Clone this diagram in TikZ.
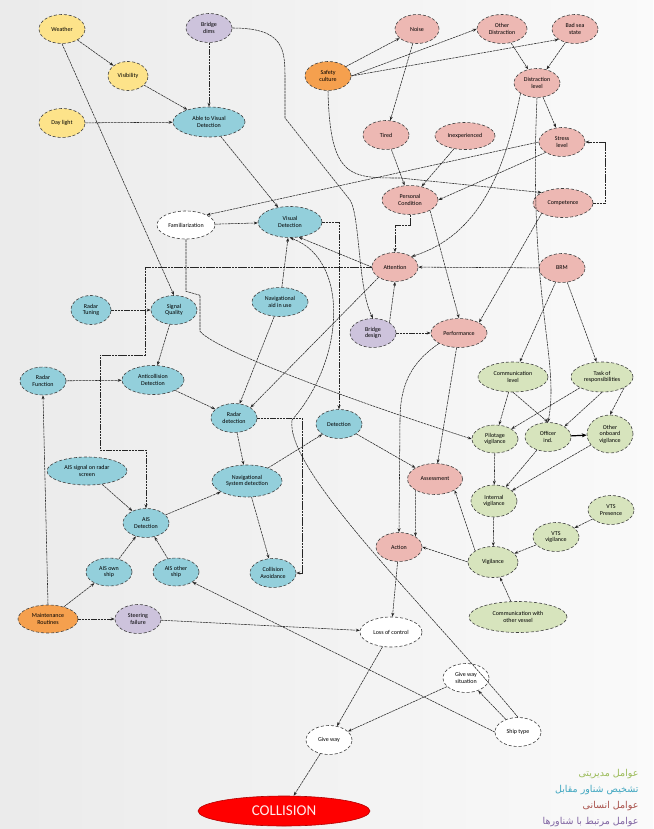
\documentclass[tikz,border=0pt]{standalone}
\usepackage{fontspec}
\setmainfont{Carlito}
\newfontfamily\farsifont[Script=Arabic]{DejaVu Sans}
\TeXXeTstate=1
\usepackage{tikz}
\usetikzlibrary{shapes.geometric,arrows.meta,positioning,calc}
\usepackage{xcolor}

\definecolor{yellowf}{HTML}{FDE38A}
\definecolor{bluef}{HTML}{93CFDB}
\definecolor{pinkf}{HTML}{EDB8B3}
\definecolor{purplef}{HTML}{CDC3DC}
\definecolor{orangef}{HTML}{F5A04E}
\definecolor{greenf}{HTML}{D7E4BD}
\definecolor{leggreen}{HTML}{9BBB59}
\definecolor{legblue}{HTML}{3FA6C0}
\definecolor{legbrown}{HTML}{A8504A}
\definecolor{legpurple}{HTML}{8064A2}

\begin{document}
\begin{tikzpicture}[x=1pt,y=1pt,
    factor/.style={ellipse, draw=black!75, densely dashed, line width=0.6pt, inner sep=0pt, minimum width=46pt, minimum height=29pt, align=center, font=\fontsize{6}{6.5}\selectfont},
    envf/.style={factor, fill=yellowf},
    detf/.style={factor, fill=bluef},
    humf/.style={factor, fill=pinkf},
    shipf/.style={factor, fill=purplef},
    orgf/.style={factor, fill=orangef},
    mgtf/.style={factor, fill=greenf},
    plainf/.style={factor, fill=white},
    myarrow/.style={-{Stealth[length=4pt,width=3pt]}, black!85, line width=0.55pt, dash pattern=on 2.5pt off 0.7pt},
    legend/.style={anchor=east, font=\farsifont\fontsize{9.5}{10}\selectfont}
]
    % Background
    \useasboundingbox (0,0) rectangle (653,-829);
    \shade[left color=gray!16, right color=gray!4] (0,0) rectangle (653,-829);

    % Environment
    \node[envf] (weather) at (62,-29) {Weather};
    \node[envf, minimum width=40pt] (visib) at (128,-76) {Visibility};
    \node[envf] (daylight) at (62,-123) {Day light};

    % Ship related
    \node[shipf] (bdims) at (209,-28) {Bridge\\dims};
    \node[shipf] (bdesign) at (373,-333) {Bridge\\design};
    \node[shipf] (steer) at (138,-619) {Steering\\failure};

    % Organisation
    \node[orgf] (safety) at (328,-76) {Safety\\culture};
    \node[orgf, minimum width=60pt, minimum height=28pt] (maint) at (48,-619) {Maintenance\\Routines};

    % Human factors
    \node[humf, minimum width=44pt] (noise) at (417,-29) {Noise};
    \node[humf, minimum width=50pt] (othdist) at (502,-29) {Other\\Distraction};
    \node[humf] (seast) at (575,-29) {Bad sea\\state};
    \node[humf] (distlev) at (537,-83) {Distraction\\level};
    \node[humf] (tired) at (386,-135) {Tired};
    \node[humf, minimum width=60pt, minimum height=27pt] (inexp) at (465,-136) {Inexperienced};
    \node[humf] (stress) at (562,-142) {Stress\\level};
    \node[humf, minimum width=56pt] (perscond) at (410,-200) {Personal\\Condition};
    \node[humf, minimum width=60pt] (compet) at (563,-203) {Competence};
    \node[humf] (attention) at (395,-267) {Attention};
    \node[humf] (brm) at (562,-268) {BRM};
    \node[humf, minimum width=56pt] (perf) at (459,-333) {Performance};
    \node[humf, minimum width=55pt, minimum height=31pt] (assess) at (435,-479) {Assessment};
    \node[humf] (action) at (399,-547) {Action};

    % Detection of the other vessel
    \node[detf, minimum width=72pt, minimum height=30pt] (ablevd) at (209,-122) {Able to Visual\\Detection};
    \node[detf, minimum width=64pt, minimum height=31pt] (visdet) at (290,-222) {Visual\\Detection};
    \node[detf, minimum width=56pt] (navaid) at (280,-302) {Navigational\\aid in use};
    \node[detf, minimum width=40pt] (radtun) at (91,-310) {Radar\\Tuning};
    \node[detf] (sigq) at (174,-310) {Signal\\Quality};
    \node[detf, minimum height=28pt] (radfunc) at (43,-381) {Radar\\Function};
    \node[detf, minimum width=62pt] (anticol) at (153,-380) {Anticollision\\Detection};
    \node[detf] (radardet) at (234,-418) {Radar\\detection};
    \node[detf] (detection) at (339,-424) {Detection};
    \node[detf, minimum width=70pt, minimum height=32pt] (nsd) at (247,-481) {Navigational\\System detection};
    \node[detf] (collav) at (273,-573) {Collision\\Avoidance};
    \node[detf, minimum width=80pt, minimum height=28pt] (aissig) at (87,-471) {AIS signal on radar\\screen};
    \node[detf] (aisdet) at (146,-523) {AIS\\Detection};
    \node[detf, minimum height=28pt] (aisown) at (109,-572) {AIS own\\ship};
    \node[detf, minimum height=28pt] (aisoth) at (176,-572) {AIS other\\ship};

    % Management
    \node[mgtf, minimum width=70pt, minimum height=30pt] (commlev) at (513,-377) {Communication\\level};
    \node[mgtf, minimum width=62pt, minimum height=30pt] (task) at (602,-377) {Task of\\responsibilities};
    \node[mgtf, minimum height=28pt] (pilotvig) at (495,-439) {Pilotage\\vigilance};
    \node[mgtf] (officer) at (548,-437) {Officer\\ind.};
    \node[mgtf, minimum height=38pt] (othonb) at (610,-434) {Other\\onboard\\vigilance};
    \node[mgtf, minimum height=32pt] (intvig) at (494,-501) {Internal\\vigilance};
    \node[mgtf] (vtspres) at (611,-510) {VTS\\Presence};
    \node[mgtf] (vtsvig) at (556,-537) {VTS\\vigilance};
    \node[mgtf, minimum width=50pt, minimum height=31pt] (vigil) at (493,-562) {Vigilance};
    \node[mgtf, minimum width=98pt, minimum height=31pt] (commves) at (518,-617) {Communication with\\other vessel};

    % Situation
    \node[plainf, minimum width=58pt, minimum height=28pt] (familiar) at (186,-225) {Familiarization};
    \node[plainf, minimum width=62pt, minimum height=30pt] (lossctl) at (391,-632) {Loss of control};
    \node[plainf] (gwsit) at (466,-678) {Give way\\situation};
    \node[plainf] (shiptype) at (518,-732) {Ship type};
    \node[plainf] (giveway) at (329,-740) {Give way};
    \node[ellipse, fill=red, draw=red!70!black, line width=0.6pt, minimum width=172pt, minimum height=30pt, inner sep=0pt, text=red!8, font=\fontsize{15}{15}\selectfont] (collision) at (284,-811) {COLLISION};

    % Arrows - environment and bridge
    \draw[myarrow] (weather) -- (visib);
    \draw[myarrow] (weather.south) -- (sigq.north);
    \draw[myarrow] (visib) -- (ablevd);
    \draw[myarrow] (daylight) -- (ablevd);
    \draw[myarrow] (bdims) -- (ablevd);
    \draw[myarrow] (bdims.east) .. controls (285,-28) and (285,-50) .. (285,-80) -- (285,-118) -- (350,-200) .. controls (360,-215) and (358,-290) .. (bdesign.north);
    \draw[myarrow] (ablevd) -- (visdet);

    % Arrows - human factors
    \draw[myarrow] (safety) -- (noise);
    \draw[myarrow] (safety.east) -- (othdist.west);
    \draw[myarrow] (safety.east) -- (seast.south west);
    \draw[myarrow] (safety.south) .. controls (330,-178) and (350,-178) .. (400,-178) -- (compet.north west);
    \draw[myarrow] (noise) -- (tired);
    \draw[myarrow] (othdist) -- (distlev);
    \draw[myarrow] (seast) -- (distlev);
    \draw[myarrow] (distlev) -- (stress);
    \draw[myarrow] (distlev.south west) .. controls (505,-170) and (480,-235) .. (attention.north east);
    \draw[myarrow] (distlev.south) .. controls (528,-300) and (560,-360) .. (officer.north);
    \draw[myarrow] (tired) -- (perscond);
    \draw[myarrow] (inexp) -- (perscond);
    \draw[myarrow] (stress.south west) -- (perscond.east);
    \draw[myarrow] (stress.west) -- (familiar.north east);
    \draw[myarrow] (compet.east) -- ++(12,0) |- (stress.east);
    \draw[myarrow] (perscond.south east) -- (perf.north);
    \draw[myarrow] (perscond.south) -- ++(0,-10) -| (attention.north);
    \draw[myarrow] (compet.south west) -- (perf.north east);
    \draw[myarrow] (brm) -- (attention);
    \draw[myarrow] (brm) -- (commlev);
    \draw[myarrow] (brm) -- (task);
    \draw[myarrow] (bdesign.north east) -- (attention.south);
    \draw[myarrow] (bdesign) -- (perf);
    \draw[myarrow] (perf.south west) .. controls (415,-360) and (400,-380) .. (400,-420) -- (action.north);
    \draw[myarrow] (perf) -- (assess);
    \draw[myarrow] (assess.south west) -- (action.north east);
    \draw[myarrow] (action) -- (lossctl);

    % Arrows - detection
    \draw[myarrow] (familiar) -- (visdet);
    \draw[myarrow] (familiar.south) -- ++(0,-52) -- ++(14,-4) -- ++(0,-36) .. controls (215,-350) and (350,-400) .. (pilotvig.west);
    \draw[myarrow] (visdet.east) -| (detection.north);
    \draw[myarrow] (attention.west) -- (visdet.-60);
    \draw[myarrow] (attention.west) -- (145,-267) -- (145,-355) -- (100,-355) -- (100,-450) -- (146,-450) -- (aisdet.north);
    \draw[myarrow] (attention.south west) -- (radardet.north east);
    \draw[myarrow] (navaid) -- (visdet);
    \draw[myarrow] (navaid) -- (radardet);
    \draw[myarrow] (radtun) -- (sigq);
    \draw[myarrow] (sigq) -- (anticol);
    \draw[myarrow] (radfunc) -- (anticol);
    \draw[myarrow] (maint.north) -- (radfunc.south);
    \draw[myarrow] (anticol) -- (radardet);
    \draw[myarrow] (radardet) -- (nsd);
    \draw[myarrow] (radardet.east) -- ++(45,0) |- (collav.east);
    \draw[myarrow] (nsd) -- (detection);
    \draw[myarrow] (nsd) -- (collav);
    \draw[myarrow] (aisdet) -- (nsd);
    \draw[myarrow] (detection) -- (assess);
    \draw[myarrow] (aissig) -- (aisdet);
    \draw[myarrow] (aisown) -- (aisdet);
    \draw[myarrow] (aisoth) -- (aisdet);
    \draw[myarrow] (maint) -- (aisown);
    \draw[myarrow] (maint) -- (steer);
    \draw[myarrow] (shiptype.north) .. controls (420,-600) and (285,-470) .. (292,-420) .. controls (345,-360) and (350,-260) .. (visdet.south);
    \draw[myarrow] (shiptype.west) -- (aisoth.south east);

    % Arrows - management
    \draw[myarrow] (commlev) -- (pilotvig);
    \draw[myarrow] (commlev.south) -- (officer.north);
    \draw[myarrow] (task.south west) -- (pilotvig.north east);
    \draw[myarrow] (task.south) -- (officer.north east);
    \draw[myarrow] (task.south east) -- (othonb.north);
    \draw[-{Stealth[length=5pt,width=4pt]}, line width=1.2pt] (officer) -- (othonb);
    \draw[myarrow] (pilotvig) -- (intvig);
    \draw[myarrow] (officer) -- (intvig);
    \draw[myarrow] (othonb) -- (intvig);
    \draw[myarrow] (intvig) -- (vigil);
    \draw[myarrow] (vtspres) -- (vtsvig);
    \draw[myarrow] (vtsvig) -- (vigil);
    \draw[myarrow] (commves) -- (vigil);
    \draw[myarrow] (vigil.north west) -- (assess.south east);
    \draw[myarrow] (vigil.west) -- (action.east);

    % Arrows - outcome
    \draw[myarrow] (steer) -- (lossctl);
    \draw[myarrow] (lossctl) -- (giveway);
    \draw[myarrow] (gwsit) -- (giveway);
    \draw[myarrow] (shiptype) -- (gwsit);
    \draw[myarrow] (giveway) -- (collision);

    % Legend
    \node[legend, text=leggreen] (leg1) at (642,-774) {\beginR عوامل مدیریتی\endR};
    \node[legend, text=legblue] (leg2) at (642,-790) {\beginR تشخیص شناور مقابل\endR};
    \node[legend, text=legbrown] (leg3) at (642,-806) {\beginR عوامل انسانی\endR};
    \node[legend, text=legpurple] (leg4) at (642,-822) {\beginR عوامل مرتبط با شناورها\endR};
\end{tikzpicture}
\end{document}
